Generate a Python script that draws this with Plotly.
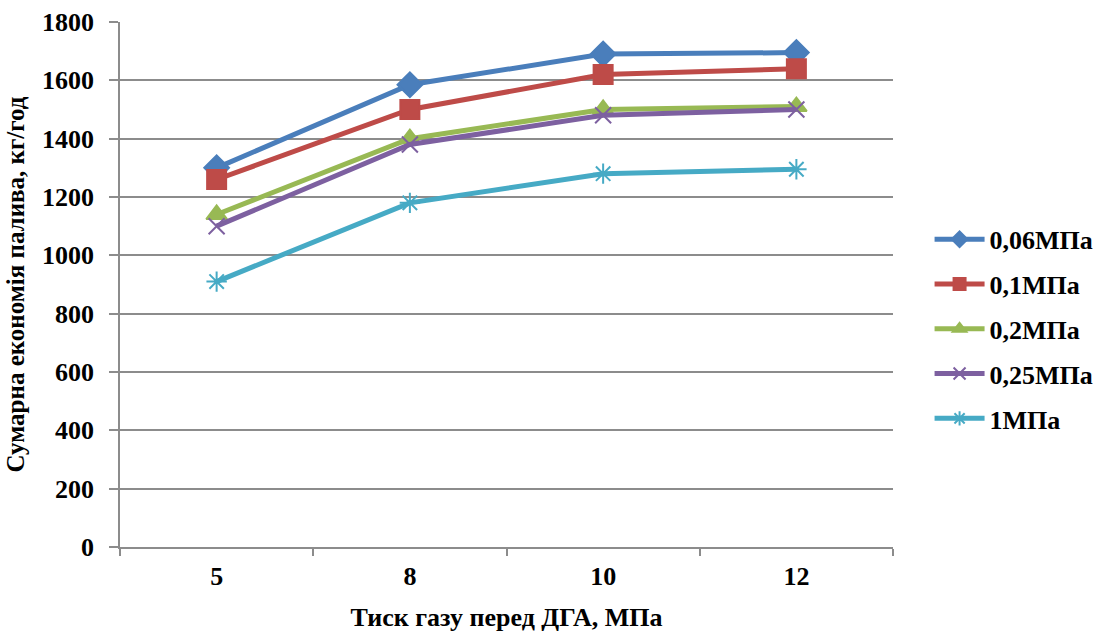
import plotly.graph_objects as go

# Gas pressure before the expander (categorical x axis)
pressure_labels = ["5", "8", "10", "12"]

# Total fuel savings, kg/h, one series per back pressure
series_names = ["0,06МПа", "0,1МПа", "0,2МПа", "0,25МПа", "1МПа"]
s_006 = [1300, 1585, 1690, 1695]
s_01 = [1260, 1500, 1620, 1640]
s_02 = [1140, 1400, 1500, 1510]
s_025 = [1100, 1380, 1480, 1500]
s_1 = [910, 1180, 1280, 1295]

y_ticks = [0, 200, 400, 600, 800, 1000, 1200, 1400, 1600, 1800]

colors = ["#4A7EBB", "#BE4B48", "#98B954", "#7D60A0", "#46AAC5"]
symbols = ["diamond", "square", "triangle-up", "x-thin", "asterisk"]
sizes = [19, 19, 18, 16, 17]

FONT = "Times New Roman, Liberation Serif, serif"
GRID = "#8C8C8C"

fig = go.Figure()
for i, (name, vals, col, sym, sz) in enumerate(zip(
        series_names, [s_006, s_01, s_02, s_025, s_1], colors, symbols, sizes)):
    fig.add_trace(go.Scatter(
        x=pressure_labels, y=vals, name=name, mode="lines+markers",
        legendgroup=f"g{i}",
        line=dict(color=col, width=5),
        marker=dict(symbol=sym, size=sz, color=col,
                    line=dict(color=col, width=2)),
    ))

fig.update_layout(
    width=1104, height=632,
    margin=dict(l=120, r=211, t=22, b=85, autoexpand=False),
    paper_bgcolor="white", plot_bgcolor="white",
    font=dict(family=FONT, color="black", size=22),
    showlegend=True,
    legend=dict(
        xref="container", yref="container",
        x=0.842, y=0.479, xanchor="left", yanchor="middle",
        font=dict(family=FONT, size=26, color="black", weight="bold"),
        tracegroupgap=8, itemsizing="constant", itemwidth=50,
        bgcolor="rgba(0,0,0,0)",
    ),
    xaxis=dict(
        type="category", tickson="boundaries", automargin=False,
        showgrid=False, showline=True, linecolor=GRID, linewidth=1.5,
        ticks="outside", ticklen=7, tickcolor=GRID, tickwidth=1.5,
        tickfont=dict(family=FONT, size=26, color="black", weight="bold"),
        ticklabelstandoff=5,
        title=dict(text="Тиск газу перед ДГА, МПа", standoff=20,
                   font=dict(family=FONT, size=26, color="black", weight="bold")),
        range=[-0.5, 3.5],
    ),
    yaxis=dict(
        range=[0, 1800], tickvals=y_ticks, automargin=False,
        showgrid=True, gridcolor=GRID, gridwidth=1.5,
        showline=True, linecolor=GRID, linewidth=1.5,
        ticks="outside", ticklen=9, tickcolor=GRID, tickwidth=1.5,
        tickfont=dict(family=FONT, size=26, color="black", weight="bold"),
        ticklabelstandoff=10,
        zeroline=False,
        title=dict(text="Сумарна економія палива, кг/год", standoff=10,
                   font=dict(family=FONT, size=25, color="black", weight="bold")),
    ),
)

fig.write_html("out.html")
